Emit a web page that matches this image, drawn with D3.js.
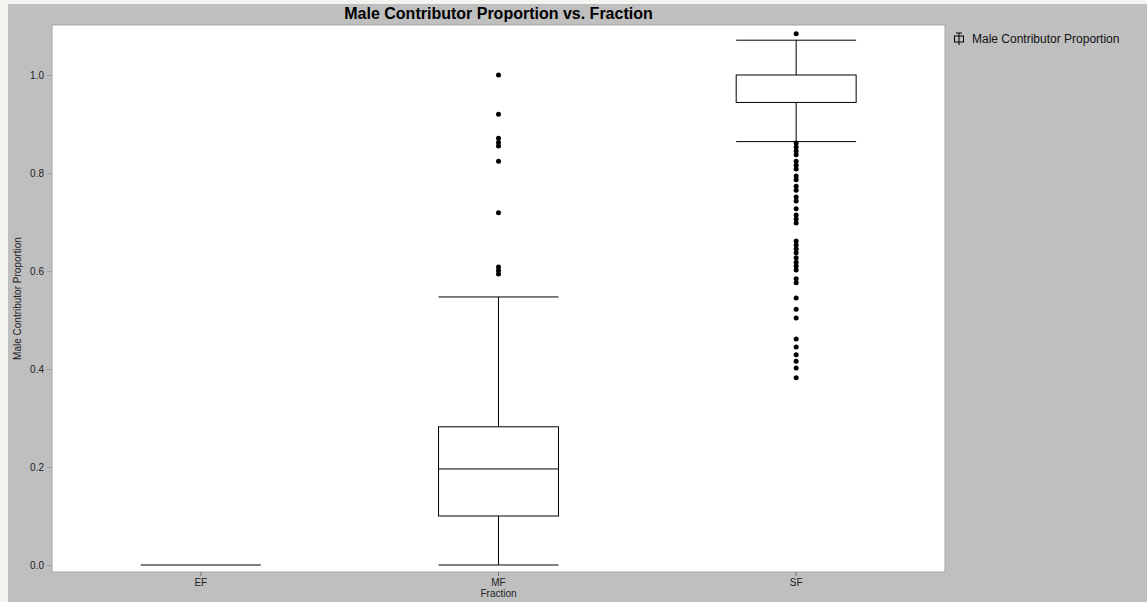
<!DOCTYPE html>
<html lang="en">
<head>
    <meta charset="UTF-8">
    <title>Male Contributor Proportion vs. Fraction</title>
    <script src="https://d3js.org/d3.v7.min.js"></script>
    <style>
        body {
            margin: 0;
            background: #f3f3ef;
            font-family: Arial, "Liberation Sans", sans-serif;
        }
        svg { display: block; }
    </style>
</head>
<body>
    <svg width="1147" height="602"></svg>

    <script>
        // box stats per fraction
        const categories = ["EF", "MF", "SF"];
        const lowWhisker = [0, 0, 0.864];
        const q1 = [0, 0.100, 0.944];
        const median = [0, 0.196, 1.0];
        const q3 = [0, 0.282, 1.0];
        const highWhisker = [0, 0.547, 1.071];

        const outliersMF = [1.0, 0.920, 0.871, 0.862, 0.855, 0.824, 0.719, 0.608, 0.601, 0.594];
        const outliersSF = [1.084, 0.861, 0.853, 0.845, 0.837, 0.824, 0.816, 0.808, 0.794, 0.786,
            0.773, 0.765, 0.751, 0.743, 0.727, 0.714, 0.706, 0.698, 0.661, 0.653, 0.645, 0.637,
            0.627, 0.618, 0.610, 0.602, 0.584, 0.576, 0.545, 0.522, 0.504, 0.461, 0.445, 0.429,
            0.416, 0.402, 0.382];
        const outliers = { EF: [], MF: outliersMF, SF: outliersSF };

        const yTicks = [0, 0.2, 0.4, 0.6, 0.8, 1.0];

        const width = 1147;
        const height = 602;
        const plot = { left: 52, right: 945, top: 25, bottom: 572 };

        const svg = d3.select("svg");

        // gray panel
        svg.append("rect")
            .attr("x", 8).attr("y", 4)
            .attr("width", width - 8).attr("height", height - 4)
            .attr("fill", "#bfbfbf");

        svg.append("rect")
            .attr("x", plot.left).attr("y", plot.top)
            .attr("width", plot.right - plot.left).attr("height", plot.bottom - plot.top)
            .attr("fill", "#fff")
            .attr("stroke", "#a6a6a6");

        const x = d3.scaleBand()
            .domain(categories)
            .range([plot.left, plot.right])
            .padding(0);

        const y = d3.scaleLinear()
            .domain([-0.0143, 1.102])
            .range([plot.bottom, plot.top]);

        const boxW = x.bandwidth() * 0.403;

        // y axis
        const yAxis = svg.append("g")
            .attr("transform", `translate(${plot.left},0)`)
            .call(d3.axisLeft(y).tickValues(yTicks).tickFormat(d3.format(".1f")).tickSize(5).tickPadding(3));
        yAxis.select(".domain").remove();
        yAxis.selectAll(".tick line").attr("stroke", "#a0a0a0");
        yAxis.selectAll(".tick text")
            .attr("fill", "#222")
            .style("font-size", "10px")
            .style("font-family", "Arial, 'Liberation Sans', sans-serif");

        // x axis
        const xAxis = svg.append("g")
            .attr("transform", `translate(0,${plot.bottom})`)
            .call(d3.axisBottom(x).tickSize(4).tickPadding(3));
        xAxis.select(".domain").remove();
        xAxis.selectAll(".tick line").attr("stroke", "#777");
        xAxis.selectAll(".tick text")
            .attr("fill", "#222")
            .style("font-size", "10px")
            .style("font-family", "Arial, 'Liberation Sans', sans-serif");

        // titles
        svg.append("text")
            .attr("x", (plot.left + plot.right) / 2)
            .attr("y", 19)
            .attr("text-anchor", "middle")
            .style("font-size", "16px")
            .style("font-weight", "bold")
            .text("Male Contributor Proportion vs. Fraction");

        svg.append("text")
            .attr("x", (plot.left + plot.right) / 2)
            .attr("y", 597)
            .attr("text-anchor", "middle")
            .attr("fill", "#222")
            .style("font-size", "10px")
            .text("Fraction");

        svg.append("text")
            .attr("transform", `translate(21,${(plot.top + plot.bottom) / 2}) rotate(-90)`)
            .attr("text-anchor", "middle")
            .attr("fill", "#222")
            .style("font-size", "10px")
            .text("Male Contributor Proportion");

        // boxes
        const g = svg.append("g");
        categories.forEach((c, i) => {
            const cx = x(c) + x.bandwidth() / 2;
            const x0 = cx - boxW / 2, x1 = cx + boxW / 2;
            const line = (xa, ya, xb, yb) => g.append("line")
                .attr("x1", xa).attr("y1", ya).attr("x2", xb).attr("y2", yb)
                .attr("stroke", "#000").attr("stroke-width", 1);

            if (q3[i] > q1[i]) {
                g.append("rect")
                    .attr("x", x0).attr("y", y(q3[i]))
                    .attr("width", boxW).attr("height", y(q1[i]) - y(q3[i]))
                    .attr("fill", "none").attr("stroke", "#000");
            }
            // horizontal lines, skipping ones that sit on top of each other
            const drawn = new Set();
            if (q3[i] > q1[i]) { drawn.add(q1[i]); drawn.add(q3[i]); }
            [median[i], highWhisker[i], lowWhisker[i]].forEach(v => {
                if (drawn.has(v)) return;
                drawn.add(v);
                line(x0, y(v), x1, y(v));
            });
            if (highWhisker[i] > q3[i]) line(cx, y(q3[i]), cx, y(highWhisker[i]));
            if (lowWhisker[i] < q1[i]) line(cx, y(q1[i]), cx, y(lowWhisker[i]));

            g.selectAll(null)
                .data(outliers[c])
                .join("circle")
                .attr("cx", cx)
                .attr("cy", d => y(d))
                .attr("r", 2.5)
                .attr("fill", "#000");
        });

        // legend
        const lg = svg.append("g").attr("transform", "translate(959,39)");
        lg.append("line").attr("x1", 0).attr("x2", 0).attr("y1", -6).attr("y2", 6).attr("stroke", "#000");
        lg.append("line").attr("x1", -3).attr("x2", 3).attr("y1", -6).attr("y2", -6).attr("stroke", "#000");
        lg.append("rect").attr("x", -4.5).attr("y", -3).attr("width", 9).attr("height", 6)
            .attr("fill", "none").attr("stroke", "#000");
        lg.append("text")
            .attr("x", 13).attr("y", 4)
            .style("font-size", "12px")
            .attr("fill", "#111")
            .text("Male Contributor Proportion");
    </script>
</body>
</html>
